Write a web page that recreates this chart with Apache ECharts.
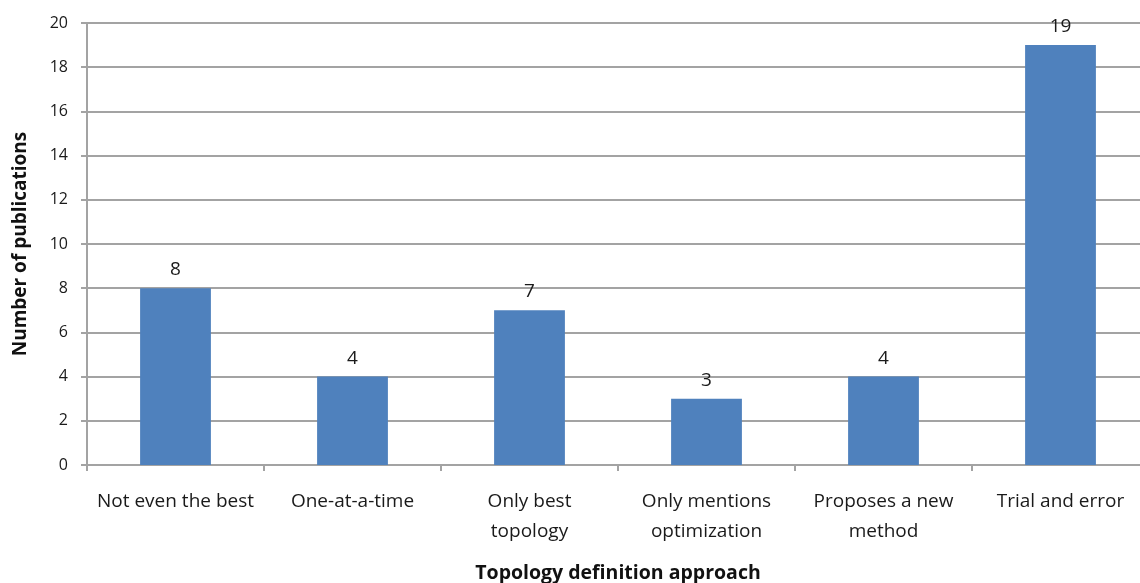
<!DOCTYPE html>
<html>
<head>
<meta charset="utf-8">
<script src="https://cdn.jsdelivr.net/npm/echarts@6/dist/echarts.min.js"></script>
<style>
  html, body { margin: 0; padding: 0; background: #ffffff; }
  #chart { width: 1140px; height: 583px; }
</style>
</head>
<body>
<div id="chart"></div>
<script>
// Topology definition approaches and publication counts
const categories = [
  'Not even the best',
  'One-at-a-time',
  'Only best\ntopology',
  'Only mentions\noptimization',
  'Proposes a new\nmethod',
  'Trial and error'
];
const publications = [8, 4, 7, 3, 4, 19];

const FONT = '"Open Sans", "Liberation Sans", sans-serif';
const GRAY = '#a3a3a3';

const chart = echarts.init(document.getElementById('chart'));
chart.setOption({
  animation: false,
  backgroundColor: '#ffffff',
  // the plot runs slightly past the right edge of the canvas
  grid: {
    left: 87, width: 1062, top: 23, bottom: 118,
    containLabel: false,
    outerBoundsMode: 'none'
  },
  xAxis: {
    type: 'category',
    data: categories,
    name: 'Topology definition approach',
    nameLocation: 'middle',
    nameGap: 98,
    nameTextStyle: { fontFamily: FONT, fontSize: 19.5, fontWeight: 'bold', color: '#111' },
    axisLine: { lineStyle: { color: GRAY, width: 2 } },
    axisTick: { show: true, alignWithLabel: false, length: 6, lineStyle: { color: GRAY, width: 2 } },
    axisLabel: {
      fontFamily: FONT, fontSize: 19, color: '#1a1a1a', margin: 22, lineHeight: 30, interval: 0
    }
  },
  yAxis: {
    type: 'value',
    min: 0,
    max: 20,
    interval: 2,
    name: 'Number of publications',
    nameLocation: 'middle',
    nameGap: 57,
    nameTextStyle: { fontFamily: FONT, fontSize: 19, fontWeight: 'bold', color: '#111' },
    axisLine: { show: true, lineStyle: { color: GRAY, width: 2 } },
    axisTick: { show: true, length: 6, lineStyle: { color: GRAY, width: 2 } },
    axisLabel: { fontFamily: FONT, fontSize: 16, color: '#1a1a1a', margin: 19 },
    splitLine: { lineStyle: { color: GRAY, width: 2 } }
  },
  series: [{
    type: 'bar',
    data: publications,
    barWidth: '40%',
    itemStyle: { color: '#4f81bd' },
    label: {
      show: true,
      position: 'top',
      distance: 9,
      fontFamily: FONT,
      fontSize: 19,
      color: '#1a1a1a'
    }
  }]
});
</script>
</body>
</html>
